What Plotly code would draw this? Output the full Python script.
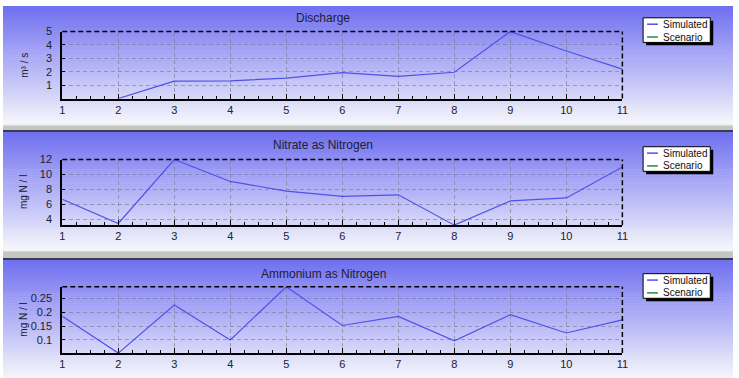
import plotly.graph_objects as go

W, H = 739, 378

steps = [1, 2, 3, 4, 5, 6, 7, 8, 9, 10, 11]
discharge = [None, 0, 1.30, 1.32, 1.52, 1.93, 1.65, 1.96, 5.0, 3.55, 2.20]
nitrate = [6.70, 3.47, 12.0, 9.08, 7.80, 7.10, 7.30, 3.25, 6.48, 6.88, 11.0]
ammonium = [0.185, 0.0525, 0.226, 0.100, 0.2915, 0.152, 0.185, 0.0965, 0.191, 0.125, 0.172]

titles = ["Discharge", "Nitrate as Nitrogen", "Ammonium as Nitrogen"]
y_titles = ["m³ / s", "mg N / l", "mg N / l"]
y_tickvals = [[1, 2, 3, 4, 5], [4, 6, 8, 10, 12], [0.1, 0.15, 0.2, 0.25]]
y_ticktext = [["1", "2", "3", "4", "5"], ["4", "6", "8", "10", "12"], ["0.1", "0.15", "0.2", "0.25"]]
legend_names = ["Simulated", "Scenario"]
series = [discharge, nitrate, ammonium]

FONT = "Liberation Sans, Arial, sans-serif"
LINE_BLUE = "rgb(80,80,235)"
SCEN_GREEN = "rgb(40,140,60)"
GRID = "rgba(120,120,140,0.6)"


def px(x):
    return x / W


def py(y):
    return 1 - y / H


# panel layout in pixels: (panel_top, panel_bottom, plot_top, plot_bottom, title_y, legend_top)
panels = [
    (0, 120, 26, 94, 12, 12),
    (128, 248, 156, 222.7, 141.5, 143),
    (258, 378, 285.3, 352.7, 272.5, 272),
]
PLOT_L, PLOT_R = 60, 627

fig = go.Figure()
shapes = []
annotations = []


def lerp(a, b, t):
    return a + (b - a) * t


top_c = (112, 112, 240)
bot_c = (244, 244, 252)

for i, (ptop, pbot, ytop, ybot, ty, ltop) in enumerate(panels):
    # gradient background of panel
    n = int((pbot - ptop) / 2)
    for k in range(n):
        t = k / max(n - 1, 1)
        c = tuple(int(round(lerp(top_c[j], bot_c[j], t))) for j in range(3))
        y0 = ptop + (pbot - ptop) * k / n
        y1 = ptop + (pbot - ptop) * (k + 1) / n + 0.5
        shapes.append(dict(type="rect", xref="paper", yref="paper", layer="below",
                           x0=0, x1=1, y0=py(y1), y1=py(y0),
                           fillcolor="rgb(%d,%d,%d)" % c, line=dict(width=0)))
    # separator band below the panel
    if i < 2:
        nxt = panels[i + 1][0]
        shapes.append(dict(type="rect", xref="paper", yref="paper", layer="below",
                           x0=0, x1=1, y0=py(nxt), y1=py(pbot),
                           fillcolor="rgb(196,198,196)", line=dict(width=0)))
        shapes.append(dict(type="rect", xref="paper", yref="paper", layer="below",
                           x0=0, x1=1, y0=py(pbot + 1.5), y1=py(pbot),
                           fillcolor="rgb(238,240,238)", line=dict(width=0)))
        shapes.append(dict(type="rect", xref="paper", yref="paper", layer="below",
                           x0=0, x1=1, y0=py(nxt), y1=py(nxt - 2),
                           fillcolor="rgb(60,60,80)", line=dict(width=0)))

    ax = "" if i == 0 else str(i + 1)
    xa = "xaxis" + ax
    ya = "yaxis" + ax
    vals = series[i]
    present = [v for v in vals if v is not None]
    fig.add_trace(go.Scatter(x=steps, y=vals, mode="lines", name=legend_names[0],
                             line=dict(color=LINE_BLUE, width=1.2),
                             xaxis="x" + ax, yaxis="y" + ax, showlegend=False,
                             cliponaxis=False))
    fig.layout[xa] = dict(
        domain=[px(PLOT_L), px(PLOT_R)], anchor="y" + ax, range=[1, 11],
        tickvals=steps, ticks="inside", ticklen=5, tickcolor="black",
        showline=True, linecolor="black", linewidth=2,
        showgrid=True, gridcolor=GRID, griddash="4px,3px", gridwidth=1,
        zeroline=False, tickfont=dict(family=FONT, size=11, color="#202030"),
        minor=dict(dtick=0.25, ticks="inside", ticklen=3, tickcolor="black", showgrid=False),
        fixedrange=True,
    )
    fig.layout[ya] = dict(
        domain=[py(ybot), py(ytop)], anchor="x" + ax, range=[min(present), max(present)],
        tickvals=y_tickvals[i], ticktext=y_ticktext[i], ticks="inside", ticklen=3,
        tickcolor="black", showline=True, linecolor="black", linewidth=2,
        showgrid=True, gridcolor=GRID, griddash="4px,3px", gridwidth=1,
        zeroline=False, tickfont=dict(family=FONT, size=11, color="#202030"),
        ticklabelstandoff=6, fixedrange=True,
    )
    # dashed top and right border of plot area
    shapes.append(dict(type="line", xref="x" + ax + " domain", yref="y" + ax + " domain",
                       x0=0, x1=1, y0=1, y1=1, line=dict(color="black", width=1.5, dash="5px,3px")))
    shapes.append(dict(type="line", xref="x" + ax + " domain", yref="y" + ax + " domain",
                       x0=1, x1=1, y0=0, y1=1, line=dict(color="black", width=1.5, dash="5px,3px")))
    # panel title
    annotations.append(dict(text=titles[i], xref="paper", yref="paper", x=px(324), y=py(ty),
                            showarrow=False, xanchor="center", yanchor="middle",
                            font=dict(family=FONT, size=12, color="#202030")))
    # y axis title
    annotations.append(dict(text=y_titles[i], xref="paper", yref="paper", x=px(21),
                            y=py((ytop + ybot) / 2), textangle=-90, showarrow=False,
                            xanchor="center", yanchor="middle",
                            font=dict(family=FONT, size=10, color="#202030")))
    # legend box with shadow
    lx0, lx1 = 648, 716
    ly0, ly1 = ltop, ltop + 25
    shapes.append(dict(type="rect", xref="paper", yref="paper",
                       x0=px(lx0 + 3), x1=px(lx1 + 3), y0=py(ly1 + 3), y1=py(ly0 + 3),
                       fillcolor="black", line=dict(width=0)))
    shapes.append(dict(type="rect", xref="paper", yref="paper",
                       x0=px(lx0), x1=px(lx1), y0=py(ly1), y1=py(ly0),
                       fillcolor="white", line=dict(color="black", width=1)))
    for r, (nm, col) in enumerate(zip(legend_names, [LINE_BLUE, SCEN_GREEN])):
        yy = ly0 + 6.5 + r * 13
        shapes.append(dict(type="line", xref="paper", yref="paper",
                           x0=px(652), x1=px(663), y0=py(yy), y1=py(yy),
                           line=dict(color=col, width=1.5)))
        annotations.append(dict(text=nm, xref="paper", yref="paper", x=px(666), y=py(yy),
                                showarrow=False, xanchor="left", yanchor="middle",
                                font=dict(family=FONT, size=10, color="#101010")))

fig.update_layout(
    width=W, height=H, margin=dict(l=0, r=0, t=0, b=0),
    paper_bgcolor="white", plot_bgcolor="rgba(0,0,0,0)",
    shapes=shapes, annotations=annotations, showlegend=False,
)

fig.write_html("out.html")
